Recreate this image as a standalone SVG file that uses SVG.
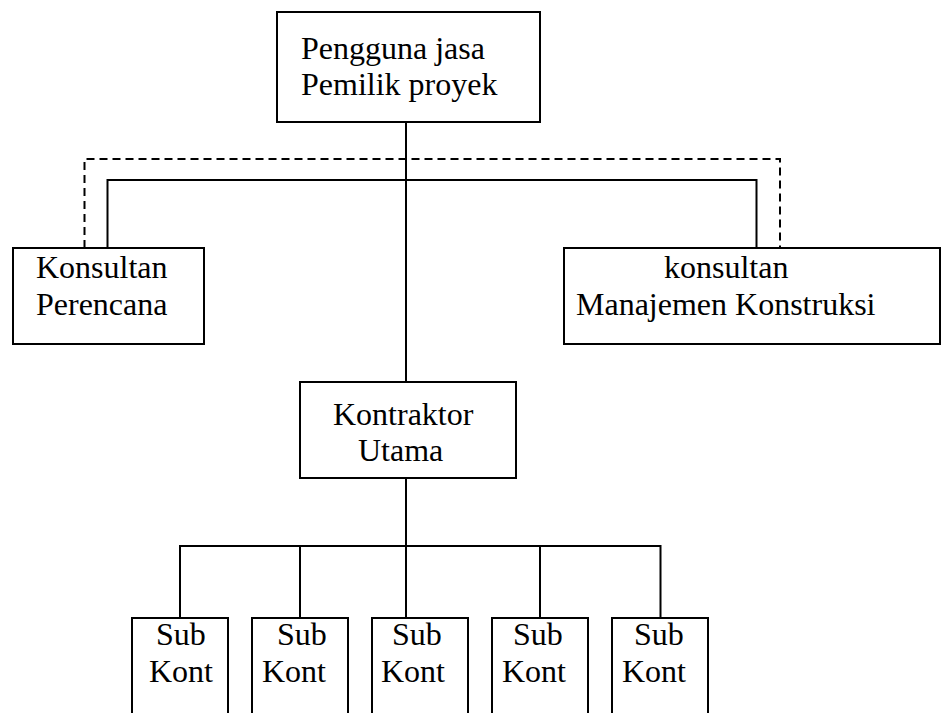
<svg xmlns="http://www.w3.org/2000/svg" width="944" height="713" viewBox="0 0 944 713">
<style>
.box{fill:#fff;stroke:#000;stroke-width:2}
.ln{fill:none;stroke:#000;stroke-width:2}
.dash{fill:none;stroke:#000;stroke-width:2;stroke-dasharray:8 5}
text{font-family:"Liberation Serif","Times New Roman",serif;font-size:32px;fill:#000}
</style>
<rect width="944" height="713" fill="#fff"/>
<g id="connectors">
<path class="dash" d="M84.5,248 V159 H780 V248"/>
<path class="ln" d="M107.5,248 V180 H756.5 V248"/>
<path class="ln" d="M406,122 V382"/>
<path class="ln" d="M406,478 V618"/>
<path class="ln" d="M180,618 V546 H660.5 V618"/>
<path class="ln" d="M300,546 V618"/>
<path class="ln" d="M540,546 V618"/>
</g>
<g id="pengguna">
<rect class="box" x="277" y="12" width="263" height="110"/>
<text x="301" y="59">Pengguna jasa</text>
<text x="301" y="95">Pemilik proyek</text>
</g>
<g id="perencana">
<rect class="box" x="13" y="248" width="191" height="96"/>
<text x="36" y="278">Konsultan</text>
<text x="36" y="315">Perencana</text>
</g>
<g id="mk">
<rect class="box" x="564" y="248" width="376" height="96"/>
<text x="664" y="278">konsultan</text>
<text x="576" y="315">Manajemen Konstruksi</text>
</g>
<g id="kontraktor">
<rect class="box" x="300" y="382" width="216" height="96"/>
<text x="333" y="425">Kontraktor</text>
<text x="358" y="461">Utama</text>
</g>
<g id="sub1">
<rect class="box" x="132" y="618" width="96" height="110"/>
<text x="156" y="645">Sub</text>
<text x="149" y="682">Kont</text>
</g>
<g id="sub2">
<rect class="box" x="252" y="618" width="96" height="110"/>
<text x="277" y="645">Sub</text>
<text x="262" y="682">Kont</text>
</g>
<g id="sub3">
<rect class="box" x="372" y="618" width="96" height="110"/>
<text x="392" y="645">Sub</text>
<text x="381" y="682">Kont</text>
</g>
<g id="sub4">
<rect class="box" x="492" y="618" width="96" height="110"/>
<text x="513" y="645">Sub</text>
<text x="502" y="682">Kont</text>
</g>
<g id="sub5">
<rect class="box" x="612" y="618" width="96" height="110"/>
<text x="634" y="645">Sub</text>
<text x="622" y="682">Kont</text>
</g>
</svg>
